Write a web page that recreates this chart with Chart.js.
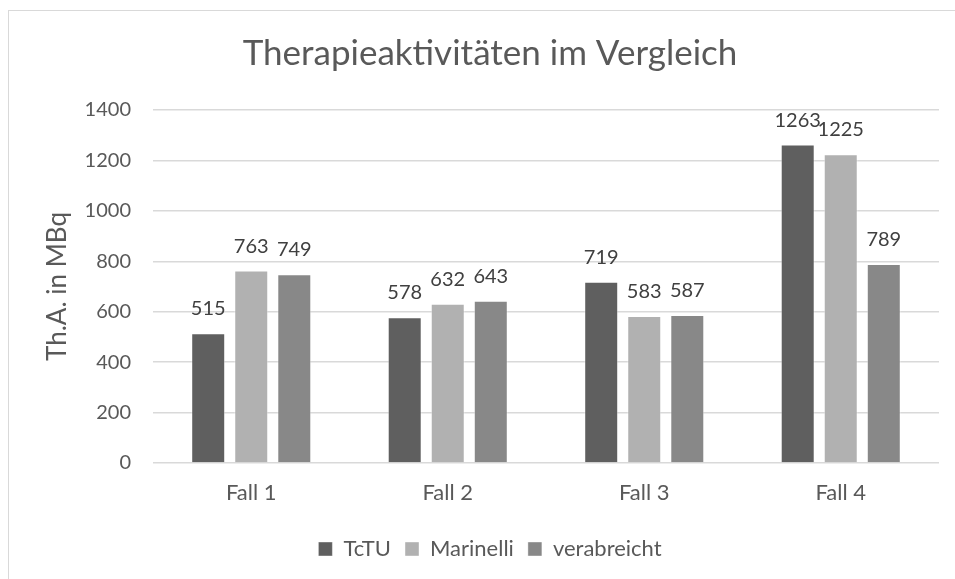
<!DOCTYPE html>
<html>
<head>
<meta charset="utf-8">
<script src="https://cdn.jsdelivr.net/npm/chart.js@4"></script>
<style>
  html, body { margin: 0; padding: 0; background: #fff; overflow: hidden; }
  .frame {
    position: absolute; left: 8px; top: 10px;
    width: 962px; height: 569px;
    border-left: 1px solid #d9d9d9; border-top: 1px solid #d9d9d9;
  }
</style>
</head>
<body>
<div class="frame"><canvas id="chart" width="962" height="569"></canvas></div>
<script>
var faelle = ['Fall 1', 'Fall 2', 'Fall 3', 'Fall 4'];
var tctu = [515, 578, 719, 1263];
var marinelli = [763, 632, 583, 1225];
var verabreicht = [749, 643, 587, 789];

var grau = '#595959';

// Werte über die Balken schreiben
var werteLabels = {
    id: 'werteLabels',
    afterDatasetsDraw: function(chart) {
        var ctx = chart.ctx;
        ctx.save();
        ctx.font = '20px Lato';
        ctx.fillStyle = '#404040';
        ctx.textAlign = 'center';
        ctx.textBaseline = 'alphabetic';
        chart.data.datasets.forEach(function(ds, i) {
            chart.getDatasetMeta(i).data.forEach(function(bar, j) {
                ctx.fillText(ds.data[j], bar.x, bar.y - 18);
            });
        });
        ctx.restore();
    }
};

var chart = new Chart(document.getElementById('chart'), {
    type: 'bar',
    data: {
        labels: faelle,
        datasets: [{
            label: 'TcTU',
            data: tctu,
            backgroundColor: '#5f5f5f',
            borderColor: 'rgba(255,255,255,0.4)',
            borderWidth: 1
        }, {
            label: 'Marinelli',
            data: marinelli,
            backgroundColor: '#b1b1b1',
            borderColor: 'rgba(255,255,255,0.4)',
            borderWidth: 1
        }, {
            label: 'verabreicht',
            data: verabreicht,
            backgroundColor: '#888888',
            borderColor: 'rgba(255,255,255,0.4)',
            borderWidth: 1
        }]
    },
    options: {
        responsive: false,
        animation: false,
        devicePixelRatio: 1,
        layout: { padding: { left: 32, right: 32, top: 0, bottom: 10 } },
        datasets: { bar: { categoryPercentage: 0.657, barPercentage: 0.79 } },
        plugins: {
            title: {
                display: true,
                text: 'Therapieaktivitäten im Vergleich',
                color: grau,
                font: { family: 'Lato', size: 35, weight: 'normal' },
                padding: { top: 22, bottom: 35 }
            },
            legend: {
                position: 'bottom',
                labels: {
                    color: grau,
                    font: { family: 'Lato', size: 22 },
                    boxWidth: 14,
                    boxHeight: 14,
                    padding: 14
                }
            },
            tooltip: { enabled: false }
        },
        scales: {
            x: {
                afterFit: function(scale) { scale.height = 61; },
                grid: { display: false },
                border: { display: false },
                ticks: { color: grau, font: { family: 'Lato', size: 22 }, padding: 9 }
            },
            y: {
                min: 0,
                max: 1400,
                afterFit: function(scale) { scale.width = 112; },
                grid: { color: '#d9d9d9', lineWidth: 1.5, drawTicks: false },
                border: { display: false },
                ticks: {
                    stepSize: 200,
                    color: grau,
                    font: { family: 'Lato', size: 20 },
                    padding: 22,
                    callback: function(v) { return v; }
                },
                title: {
                    display: true,
                    text: 'Th.A. in MBq',
                    color: grau,
                    font: { family: 'Lato', size: 26 },
                    padding: { top: 1, bottom: 0 }
                }
            }
        }
    },
    plugins: [werteLabels]
});
</script>
</body>
</html>
